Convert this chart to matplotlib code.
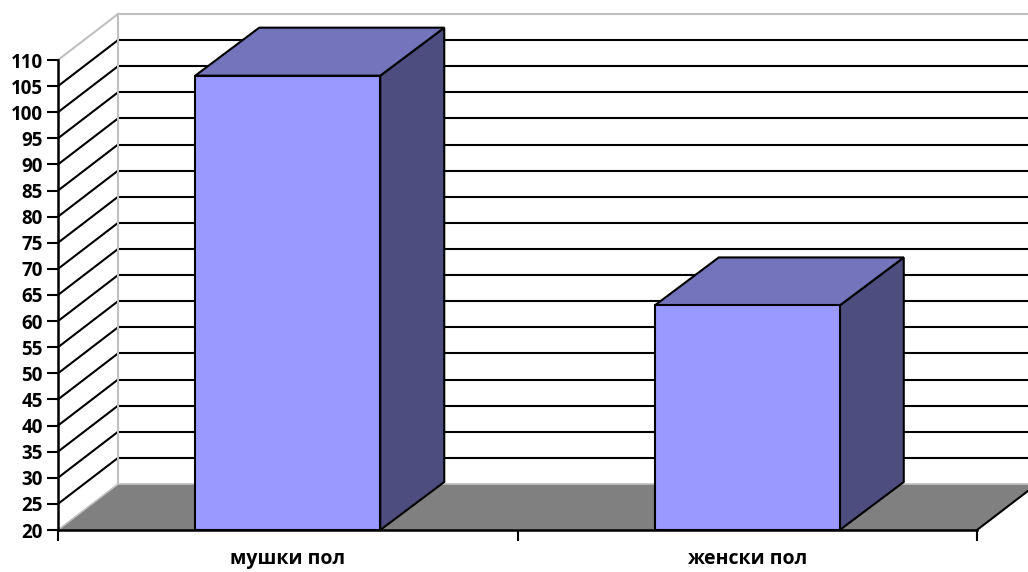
import matplotlib

matplotlib.use('Agg')
import matplotlib.pyplot as plt
from matplotlib.patches import Polygon

categories = ['мушки пол', 'женски пол']
values = [107, 63]
y_ticks = list(range(20, 115, 5))

W, H = 1028, 572
fig = plt.figure(figsize=(W / 100, H / 100), dpi=100)
fig.patch.set_facecolor('white')
plt.rcParams['font.family'] = ['Open Sans', 'DejaVu Sans']

# front plot area in pixels: x 58..977, y 60..530 (from top)
ax = fig.add_axes([58 / W, (H - 530) / H, (977 - 58) / W, (530 - 60) / H])
ax.set_xlim(-0.5, 1.5)
ax.set_ylim(20, 110)
ax.patch.set_alpha(0)

px_x = (977 - 58) / 2.0      # pixels per x unit
px_y = (530 - 60) / 90.0     # pixels per value unit
dx, dy = 60 / px_x, 46 / px_y          # depth of walls
bdx, bdy = 64 / px_x, 48 / px_y        # depth of bars
bw = 185 / px_x

x0, x1, ymin, ymax = -0.5, 1.5, 20, 110
grey = '#c0c0c0'

# back wall gridlines and side wall diagonals
for v in y_ticks:
    c = grey if v == ymax else 'black'
    if v > ymin:
        ax.plot([x0 + dx, x1 + dx], [v + dy, v + dy], color=c, lw=1.5,
                clip_on=False, zorder=1)
        ax.plot([x0, x0 + dx], [v, v + dy], color=c, lw=1.5,
                clip_on=False, zorder=1)
ax.plot([x0 + dx, x0 + dx], [ymin + dy, ymax + dy], color=grey, lw=1.5,
        clip_on=False, zorder=1)

# floor
floor = Polygon([(x0, ymin), (x0 + dx, ymin + dy), (x1 + dx, ymin + dy), (x1, ymin)],
                closed=True, facecolor='#808080', edgecolor='none',
                clip_on=False, zorder=2)
ax.add_patch(floor)
ax.plot([x0, x0 + dx, x1 + dx], [ymin, ymin + dy, ymin + dy], color=grey,
        lw=1.2, clip_on=False, zorder=2)
ax.plot([x1, x1 + dx], [ymin, ymin + dy], color='black', lw=1.5,
        clip_on=False, zorder=2)

# bars
for i, v in enumerate(values):
    l, r = i - bw / 2, i + bw / 2
    front = Polygon([(l, ymin), (l, v), (r, v), (r, ymin)], closed=True,
                    facecolor='#9999ff', edgecolor='black', lw=1.5,
                    joinstyle='miter', clip_on=False, zorder=4)
    top = Polygon([(l, v), (l + bdx, v + bdy), (r + bdx, v + bdy), (r, v)],
                  closed=True, facecolor='#7474bc', edgecolor='black', lw=1.5,
                  joinstyle='miter', clip_on=False, zorder=4)
    side = Polygon([(r, ymin), (r, v), (r + bdx, v + bdy), (r + bdx, ymin + bdy)],
                   closed=True, facecolor='#4d4d80', edgecolor='black', lw=1.5,
                   joinstyle='miter', clip_on=False, zorder=4)
    for p in (side, top, front):
        ax.add_patch(p)

for s in ('top', 'right'):
    ax.spines[s].set_visible(False)
for s in ('left', 'bottom'):
    ax.spines[s].set_linewidth(1.8)
    ax.spines[s].set_zorder(3)

ax.set_yticks(y_ticks)
ax.set_yticklabels([str(t) for t in y_ticks], fontsize=13.5, fontweight='bold')
ax.tick_params(axis='y', length=8, width=1.5, pad=3)

ax.set_xticks([x0, 0.5, x1])
ax.set_xticklabels([])
ax.set_xticks([0, 1], minor=True)
ax.set_xticklabels(categories, minor=True, fontsize=14, fontweight='bold')
ax.tick_params(axis='x', which='major', length=8, width=1.5, direction='out')
ax.tick_params(axis='x', which='minor', length=0, pad=14)

fig.savefig('out.png', dpi=100)
